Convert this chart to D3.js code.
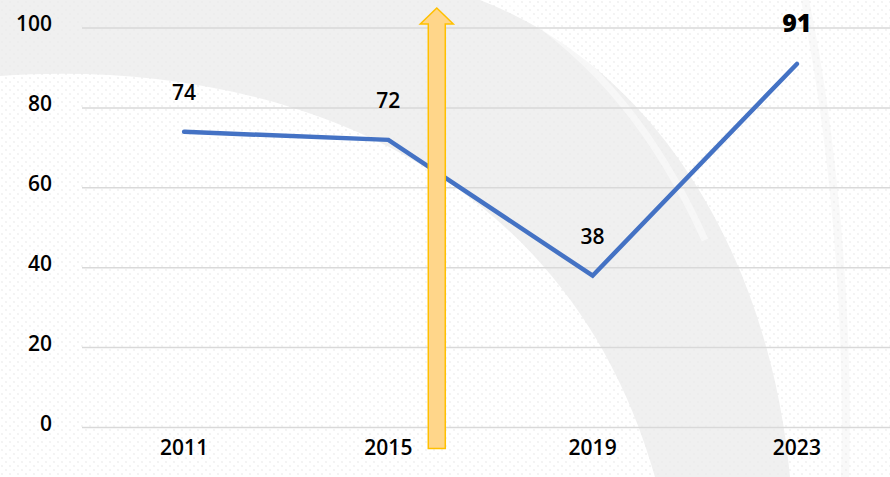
<!DOCTYPE html>
<meta charset="utf-8">
<style>
    body { margin: 0; background: #fff; }
    text { font-family: "Open Sans", sans-serif; fill: #000; }
    .grid line { stroke: #d9d9d9; stroke-width: 1.5; }
    .axis path, .axis line { display: none; }
    .axis text { font-size: 21px; font-weight: 600; }
    .label { font-size: 21px; font-weight: 600; text-anchor: middle; }
    .label.max { font-size: 25px; font-weight: 800; }
</style>
<body>
<script src="https://cdn.jsdelivr.net/npm/d3@7"></script>
<script>
    var years = ["2011", "2015", "2019", "2023"];
    var values = [74, 72, 38, 91];
    var yTicks = [0, 20, 40, 60, 80, 100];

    var width = 890, height = 477;
    var margin = {left: 82, top: 28, bottom: 50};

    var x = d3.scaleBand()
        .domain(years)
        .range([margin.left, 899])
        .padding(0);

    var y = d3.scaleLinear()
        .domain([0, 100])
        .range([height - margin.bottom + 0.5, margin.top]);

    var svg = d3.select("body").append("svg")
        .attr("width", width)
        .attr("height", height);

    // dotted paper + faint watermark in the background
    var defs = svg.append("defs");
    var pat = defs.append("pattern")
        .attr("id", "dots")
        .attr("width", 8).attr("height", 8)
        .attr("patternUnits", "userSpaceOnUse");
    pat.append("circle").attr("cx", 2).attr("cy", 2).attr("r", 1.1).attr("fill", "#f1f1f1");
    pat.append("circle").attr("cx", 6).attr("cy", 6).attr("r", 1.1).attr("fill", "#f1f1f1");

    svg.append("rect")
        .attr("width", width).attr("height", height)
        .attr("fill", "#fff");
    svg.append("rect")
        .attr("width", width).attr("height", height)
        .attr("fill", "url(#dots)");

    var mark = svg.append("g").attr("class", "watermark");
    mark.append("path")
        .attr("d", "M0,0 L0,76 C240,58 560,140 655,477 L790,477 C770,260 660,70 480,0 Z")
        .attr("fill", "#e9e9e9")
        .attr("opacity", 0.7);
    mark.append("path")
        .attr("d", "M505,0 C600,60 660,140 705,240")
        .attr("fill", "none")
        .attr("stroke", "#fff")
        .attr("stroke-width", 7)
        .attr("opacity", 0.45);
    mark.append("path")
        .attr("d", "M805,0 C830,120 850,300 845,477")
        .attr("fill", "none")
        .attr("stroke", "#ececec")
        .attr("stroke-width", 8)
        .attr("opacity", 0.3);

    // gridlines
    svg.append("g")
        .attr("class", "grid")
        .selectAll("line")
        .data(yTicks)
        .join("line")
        .attr("x1", margin.left)
        .attr("x2", width)
        .attr("y1", d => y(d))
        .attr("y2", d => y(d));

    // axes
    var yAxis = d3.axisLeft(y).tickValues(yTicks).tickSize(0).tickPadding(0);
    svg.append("g")
        .attr("class", "y axis")
        .attr("transform", "translate(52,-4)")
        .call(yAxis);

    var xAxis = d3.axisBottom(x).tickSize(0).tickPadding(0);
    svg.append("g")
        .attr("class", "x axis")
        .attr("transform", "translate(0," + (height - 24) + ")")
        .call(xAxis)
        .selectAll("text")
        .attr("dy", "0.71em")
        .attr("y", -13);

    // line
    var cx = d => x(d) + x.bandwidth() / 2;
    var line = d3.line()
        .x((d, i) => cx(years[i]))
        .y(d => y(d));

    svg.append("path")
        .datum(values)
        .attr("fill", "none")
        .attr("stroke", "#4472c4")
        .attr("stroke-width", 4.5)
        .attr("stroke-linecap", "round")
        .attr("stroke-linejoin", "miter")
        .attr("d", line);

    // data labels
    var maxV = d3.max(values);
    svg.append("g")
        .selectAll("text")
        .data(values)
        .join("text")
        .attr("class", d => d === maxV ? "label max" : "label")
        .attr("x", (d, i) => cx(years[i]))
        .attr("y", d => y(d) - 32)
        .text(d => d);

    // yellow up arrow annotation
    var ax = x("2015") + x.bandwidth() * 0.737;
    var shaftW = 8.5, headW = 16.5;
    var yTop = y(105), yHead = y(101), yBot = y(-5.25);
    svg.append("path")
        .attr("d", d3.line()([
            [ax - shaftW, yBot], [ax - shaftW, yHead], [ax - headW, yHead],
            [ax, yTop], [ax + headW, yHead], [ax + shaftW, yHead],
            [ax + shaftW, yBot]
        ]) + "Z")
        .attr("fill", "#ffd68a")
        .attr("stroke", "#ffc000")
        .attr("stroke-width", 1.5);
</script>
